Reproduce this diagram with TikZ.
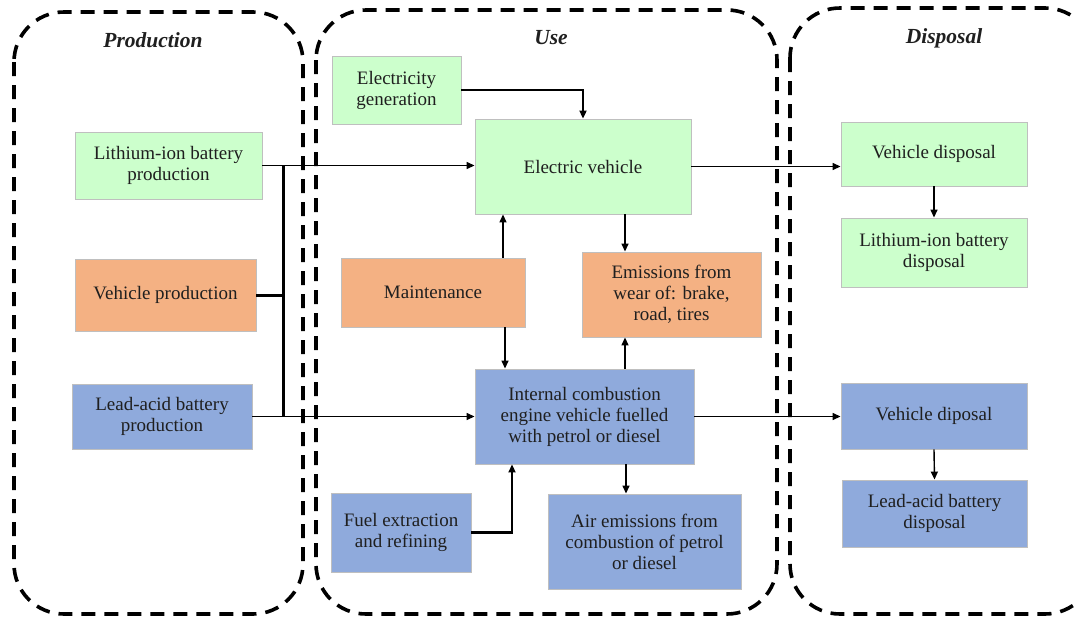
\documentclass[tikz,border=0pt]{standalone}
\usepackage{fontspec}
\setmainfont{Liberation Serif}
\usetikzlibrary{arrows.meta}
\definecolor{gr}{HTML}{CCFFCC}
\definecolor{og}{HTML}{F4B183}
\definecolor{bl}{HTML}{8FAADC}
\definecolor{bd}{HTML}{BFBFBF}
\definecolor{tx}{HTML}{1F1F1F}
\begin{document}
\begin{tikzpicture}[x=1pt,y=-1pt,
  box/.style={draw=bd, line width=0.9pt, align=center, text=tx, inner sep=0pt,
    font=\fontsize{19}{21}\selectfont},
  gbox/.style={box, fill=gr},
  obox/.style={box, fill=og},
  bbox/.style={box, fill=bl},
  cont/.style={draw=black, line width=3.6pt, dash pattern=on 14pt off 9pt, rounded corners=50pt},
  ttl/.style={font=\fontsize{21.5}{24}\selectfont\bfseries\itshape, text=tx},
  arr/.style={draw=black, line width=1.4pt, -{Triangle[length=8pt,width=7pt]}},
  tarr/.style={draw=black, line width=2.2pt, -{Triangle[length=8pt,width=7pt]}},
  bus/.style={draw=black, line width=3pt}
]
\useasboundingbox (0,0) rectangle (1074,619);
\clip (0,0) rectangle (1074,619);
\fill[white] (0,0) rectangle (1074,619);

% containers
\draw[cont] (14,12) rectangle (303,614);
\draw[cont] (316,10) rectangle (777,614);
\draw[cont] (790,8) rectangle (1095,614);

\node[ttl] (tprod) at (153,40) {Production};
\node[ttl] (tuse) at (551,38) {Use};
\node[ttl] (tdisp) at (944,38) {Disposal};

% production
\node[gbox, minimum width=187pt, minimum height=67pt] (lip) at (168.5,165.5) {Lithium-ion battery\\production};
\node[obox, minimum width=181pt, minimum height=72pt] (vp) at (165.5,295) {Vehicle production};
\node[bbox, minimum width=180pt, minimum height=65pt] (lap) at (162,416.5) {Lead-acid battery\\production};

% use
\node[gbox, minimum width=129pt, minimum height=68pt] (eg) at (396.5,90) {Electricity\\generation};
\node[gbox, minimum width=216pt, minimum height=95pt] (ev) at (583,166.5) {Electric vehicle};
\node[obox, minimum width=184pt, minimum height=69pt] (mt) at (433,292.5) {Maintenance};
\node[obox, minimum width=179pt, minimum height=85pt] (em) at (671.5,294.5) {Emissions from\\wear of: brake,\\road, tires};
\node[bbox, minimum width=219pt, minimum height=95pt] (ice) at (584.5,416.5) {Internal combustion\\engine vehicle fuelled\\with petrol or diesel};
\node[bbox, minimum width=140pt, minimum height=79pt] (fe) at (401,532.5) {Fuel extraction\\and refining};
\node[bbox, minimum width=193pt, minimum height=95pt] (air) at (644.5,541.5) {Air emissions from\\combustion of petrol\\or diesel};

% disposal
\node[gbox, minimum width=186pt, minimum height=64pt] (vdg) at (934,154) {Vehicle disposal};
\node[gbox, minimum width=186pt, minimum height=69pt] (lid) at (934,252.5) {Lithium-ion battery\\disposal};
\node[bbox, minimum width=186pt, minimum height=66pt] (vdb) at (934,416) {Vehicle diposal};
\node[bbox, minimum width=185pt, minimum height=67pt] (lad) at (934.5,513.5) {Lead-acid battery\\disposal};

% connectors
\coordinate (bt) at (283,165.5);
\coordinate (bb) at (283,416.5);
\draw[arr] (lip.east) -- (lip.east -| ev.west);
\draw[arr] (lap.east) -- (lap.east -| ice.west);
\draw[bus] (bt) -- (bb);
\draw[bus] (vp.east) -- (vp.east -| bt);

\draw[tarr] (eg.east) -| (ev.north);
\draw[arr] ([xshift=70pt]mt.north) -- ([xshift=70pt]mt.north |- ev.south);
\draw[arr] ([xshift=72pt]mt.south) -- ([xshift=72pt]mt.south |- ice.north);
\draw[arr] ([xshift=42pt]ev.south) -- ([xshift=42pt]ev.south |- em.north);
\draw[arr] ([xshift=40.5pt]ice.north) -- ([xshift=40.5pt]ice.north |- em.south);
\draw[arr] ([xshift=41.5pt]ice.south) -- ([xshift=41.5pt]ice.south |- air.north);
\draw[tarr] (fe.east) -| ([xshift=-72.5pt]ice.south);

\draw[arr] (ev.east) -- (ev.east -| vdg.west);
\draw[arr] (ice.east) -- (ice.east -| vdb.west);
\draw[arr] (vdg.south) -- (lid.north);
\draw[arr] (vdb.south) -- (lad.north);
\end{tikzpicture}
\end{document}
